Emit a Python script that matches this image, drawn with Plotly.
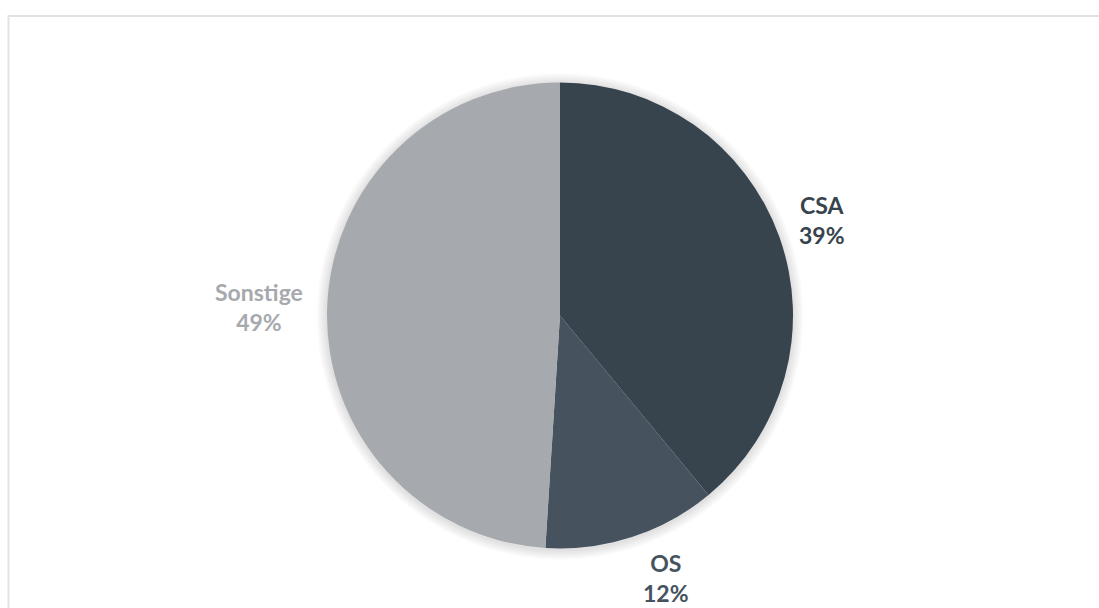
import plotly.graph_objects as go

labels = ["CSA", "OS", "Sonstige"]
values = [39, 12, 49]
colors = ["#37434d", "#46525e", "#a6a9ad"]

W, H = 1099, 608
cx, cy, R = 560, 315.5, 233

# label anchor positions (pixels)
label_pos = [(822, 220), (666, 578), (259, 307)]

fig = go.Figure()
fig.add_trace(go.Pie(
    labels=labels, values=values, sort=False, direction="clockwise", rotation=0,
    marker=dict(colors=colors, line=dict(width=0)),
    textinfo="none", hoverinfo="label+percent", showlegend=False,
    domain=dict(x=[(cx - R) / W, (cx + R) / W], y=[1 - (cy + R) / H, 1 - (cy - R) / H]),
))

total = sum(values)
annotations = []
for lab, v, col, (px, py) in zip(labels, values, colors, label_pos):
    annotations.append(dict(
        x=px / W, y=1 - py / H, xref="paper", yref="paper",
        text=f"<b>{lab}<br>{round(100 * v / total)}%</b>",
        showarrow=False, xanchor="center", yanchor="middle",
        font=dict(family="Lato, Open Sans, sans-serif", size=23, color=col),
        align="center",
    ))

shapes = [dict(type="rect", xref="paper", yref="paper",
               x0=8.5 / W, x1=1.05, y0=-0.1, y1=1 - 16 / H,
               line=dict(color="#dfe3e7", width=2), fillcolor="rgba(0,0,0,0)", layer="below")]

# soft shadow around the pie
for dr in range(2, 12, 2):
    r = R + dr
    shapes.append(dict(type="circle", xref="paper", yref="paper",
                       x0=(cx - r) / W, x1=(cx + r) / W,
                       y0=1 - (cy + 1 + r) / H, y1=1 - (cy + 1 - r) / H,
                       line=dict(width=0), fillcolor="rgba(0,0,0,0.025)", layer="below"))

fig.update_layout(
    autosize=True,
    margin=dict(l=0, r=0, t=0, b=0),
    paper_bgcolor="white", plot_bgcolor="white",
    annotations=annotations, shapes=shapes,
)
fig.write_html("out.html", config={"displayModeBar": False})
